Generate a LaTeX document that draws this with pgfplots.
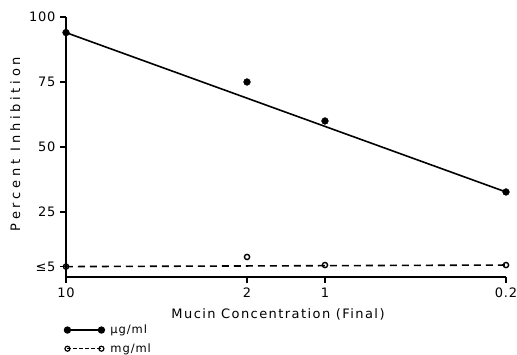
\documentclass[border=0pt]{standalone}
\usepackage{fontspec}
\setmainfont{DejaVu Sans}
\usepackage{pgfplots}
\pgfplotsset{compat=1.18}
\begin{document}
\fontsize{13}{15}\selectfont
\begin{tikzpicture}
\useasboundingbox (-66pt,-78pt) rectangle (451pt,277pt);
\begin{axis}[
  at={(0,0)}, anchor=south west,
  scale only axis, width=440pt, height=260pt,
  xmode=log, x dir=reverse, xmin=0.2, xmax=10,
  ymin=0, ymax=100,
  axis x line=bottom, axis y line=left,
  axis line style={-, line width=1.6pt},
  xtick={10,2,1,0.2}, xticklabels={10,2,1,0.2},
  minor xtick={},
  ytick={4,25,50,75,100}, yticklabels={≤5,25,50,75,100},
  tick align=outside, major tick length=6pt,
  tick style={line width=1.4pt, black},
  tick label style={font=\fontsize{13}{15}\selectfont\addfontfeature{LetterSpace=6}},
  /pgf/number format/assume math mode=true,
  xlabel={Mucin Concentration (Final)},
  ylabel={Percent Inhibition},
  xlabel style={yshift=-2pt, xshift=-8pt, font=\fontsize{13}{15}\selectfont\addfontfeature{LetterSpace=11}},
  ylabel style={xshift=3pt, font=\fontsize{13}{15}\selectfont\addfontfeature{LetterSpace=29}},
  clip=false,
  legend style={at={(axis description cs:-0.004,-0.175)}, anchor=north west, draw=none, fill=none,
    inner sep=0pt, row sep=4pt, column sep=4pt, font=\fontsize{11.5}{13}\selectfont\addfontfeature{LetterSpace=8}},
  legend cell align=left,
]
\addplot[no marks, line width=1.6pt, forget plot] coordinates {(10,94) (0.2,32.7)};
\addplot[only marks, mark=*, mark size=3.4pt,
  legend image code/.code={\draw[sharp plot, line width=1.3pt, mark=*, mark size=3pt] plot coordinates {(0pt,0pt) (34pt,0pt)};}]
  coordinates {(10,94) (2,75) (1,60) (0.2,32.7)};
\addlegendentry{µg/ml}
\addplot[no marks, line width=1.6pt, dash pattern=on 7pt off 5pt, forget plot] coordinates {(10,4) (0.2,4.6)};
\addplot[only marks, mark=o, mark size=2.6pt, mark options={line width=1.4pt, fill=white},
  legend image code/.code={\draw[sharp plot, line width=1.2pt, dash pattern=on 3.5pt off 2.5pt, mark=o, mark size=2.5pt, mark options={solid, fill=white}] plot coordinates {(0pt,0pt) (34pt,0pt)};}]
  coordinates {(10,4) (2,7.7) (1,4.6) (0.2,4.6)};
\addlegendentry{mg/ml}
\end{axis}
\end{tikzpicture}
\end{document}
